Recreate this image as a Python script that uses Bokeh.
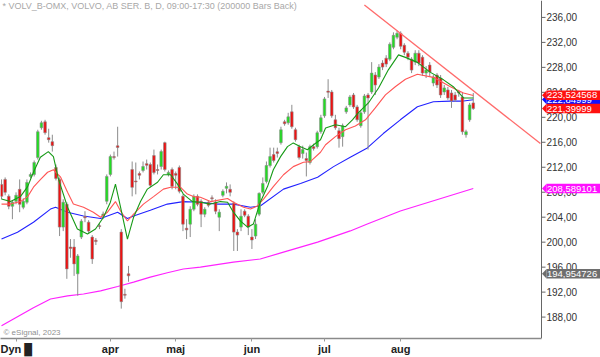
from bokeh.plotting import figure
from bokeh.models import Range1d, FixedTicker, Label, ColumnDataSource
from bokeh.core.properties import value
from bokeh.embed import file_html
from bokeh.resources import INLINE

# ---------------- data ----------------
opens = [209.25, 210.05, 207.34, 205.75, 206.55, 208.46, 205.59, 206.39, 210.53, 210.85,
         213.55, 218.33, 219.28, 216.74, 216.10, 211.96, 210.05, 202.41, 206.07, 199.22,
         199.22, 194.93, 200.82, 204.10, 203.20, 200.82, 200.30, 202.65, 204.20, 206.55,
         210.85, 213.71, 215.35, 201.61, 191.65, 194.93, 211.64, 209.80, 210.90, 211.48,
         212.50, 212.44, 213.87, 211.64, 212.12, 215.94, 210.85, 211.64, 210.90, 211.96,
         207.34, 202.15, 202.89, 205.27, 207.34, 206.55, 204.48, 206.39, 207.10, 206.39,
         204.00, 207.50, 208.62, 208.46, 206.23, 201.61, 202.41, 204.96, 204.16, 200.82,
         200.98, 204.48, 207.98, 209.73, 212.28, 214.03, 214.40, 215.94, 219.20, 219.12,
         220.88, 218.01, 215.30, 214.19, 213.39, 212.76, 215.30, 215.30, 217.69, 220.24,
         224.20, 224.06, 219.60, 217.85, 216.90, 220.88, 221.99, 223.58, 221.67, 218.65,
         220.88, 223.58, 224.06, 226.77, 226.45, 228.68, 229.47, 229.31, 231.22, 232.82,
         233.45, 231.54, 230.27, 229.31, 228.84, 230.27, 229.63, 227.08, 228.36, 225.49,
         226.77, 226.29, 224.06, 224.38, 223.90, 223.58, 224.10, 223.26, 217.21, 219.60,
         222.31]
highs = [210.05, 210.37, 207.66, 206.71, 207.98, 210.05, 207.03, 210.05, 211.17, 213.08,
         218.01, 219.44, 219.60, 218.17, 217.21, 212.44, 210.37, 206.87, 206.39, 200.50,
         200.50, 198.10, 203.68, 204.96, 203.52, 201.13, 200.66, 203.04, 204.90, 210.85,
         214.03, 214.51, 218.49, 202.09, 192.54, 196.20, 212.92, 212.76, 211.32, 212.92,
         213.23, 212.76, 214.83, 212.44, 214.83, 216.10, 211.48, 211.96, 211.32, 212.28,
         207.66, 203.68, 205.75, 207.66, 207.66, 206.87, 205.59, 206.71, 207.50, 206.87,
         205.27, 208.46, 209.57, 209.25, 206.55, 202.09, 205.27, 205.27, 204.48, 202.09,
         203.68, 207.98, 210.37, 212.92, 215.14, 215.14, 215.14, 218.49, 219.60, 220.72,
         222.00, 218.33, 215.62, 215.46, 214.35, 215.62, 215.78, 217.85, 220.40, 223.26,
         226.10, 224.38, 220.40, 218.33, 219.00, 221.83, 223.58, 223.90, 221.99, 221.19,
         223.74, 223.90, 228.84, 227.24, 228.52, 229.15, 229.95, 232.01, 233.61, 233.93,
         233.77, 231.86, 230.59, 229.63, 230.75, 230.75, 229.95, 228.20, 228.84, 226.77,
         227.08, 226.77, 225.17, 224.86, 224.38, 224.06, 224.40, 223.90, 218.01, 222.31,
         223.90]
lows = [206.87, 207.50, 205.27, 203.68, 206.07, 204.80, 205.27, 206.07, 210.21, 210.53,
        213.23, 218.01, 217.21, 215.94, 214.51, 209.89, 200.98, 201.77, 194.13, 197.50,
        194.60, 191.42, 200.50, 203.20, 201.45, 196.52, 199.54, 202.09, 203.70, 206.07,
        210.53, 213.23, 213.71, 189.36, 190.95, 193.66, 207.34, 207.66, 210.05, 211.17,
        211.64, 208.78, 210.85, 210.85, 211.64, 211.32, 210.53, 208.46, 208.46, 207.82,
        201.77, 200.50, 200.82, 204.96, 205.75, 202.41, 204.00, 205.59, 206.55, 204.48,
        201.77, 207.19, 207.82, 207.34, 198.59, 198.59, 201.77, 204.00, 201.13, 198.91,
        200.50, 204.16, 207.66, 209.41, 211.96, 212.76, 213.55, 215.62, 218.65, 218.81,
        218.17, 216.10, 213.23, 213.39, 210.53, 212.44, 214.67, 214.99, 217.37, 219.92,
        223.10, 219.92, 218.01, 215.14, 215.30, 220.56, 221.67, 221.35, 219.28, 218.33,
        220.56, 214.83, 223.74, 223.58, 226.13, 227.56, 228.04, 228.99, 230.90, 232.50,
        230.90, 229.95, 229.15, 227.08, 228.36, 228.20, 226.61, 226.29, 226.45, 224.97,
        224.70, 223.10, 223.58, 222.79, 221.51, 222.47, 223.30, 217.21, 216.74, 219.28,
        221.20]
closes = [207.34, 207.98, 205.75, 206.39, 207.50, 206.07, 206.55, 209.57, 210.85, 212.76,
          217.69, 219.12, 217.53, 216.42, 215.46, 210.21, 202.41, 206.39, 195.72, 199.00,
          196.52, 197.79, 203.36, 203.90, 201.77, 197.31, 200.10, 202.50, 204.50, 210.53,
          213.71, 213.55, 215.25, 190.47, 191.50, 194.61, 208.78, 209.65, 210.80, 212.12,
          212.40, 209.10, 211.17, 211.48, 214.51, 211.64, 211.17, 208.94, 210.80, 208.14,
          202.89, 202.05, 205.27, 207.34, 206.07, 204.48, 205.27, 205.91, 206.95, 204.96,
          204.80, 208.14, 208.94, 207.98, 201.61, 201.13, 204.16, 204.32, 202.41, 200.34,
          202.89, 207.82, 209.41, 212.28, 213.71, 213.08, 214.30, 218.01, 219.05, 220.08,
          218.49, 216.42, 213.55, 214.83, 213.08, 215.30, 214.99, 217.53, 219.92, 222.95,
          224.00, 220.24, 218.33, 216.58, 218.65, 221.51, 223.26, 221.67, 219.60, 220.72,
          223.42, 223.10, 227.08, 225.17, 228.04, 228.04, 228.52, 231.70, 233.13, 233.45,
          231.38, 230.43, 229.63, 227.56, 230.27, 228.68, 227.08, 227.56, 227.24, 226.45,
          225.17, 223.58, 224.70, 223.10, 222.63, 222.79, 223.90, 217.69, 217.69, 221.99,
          221.40]

month_pos = [30, 48, 69, 89, 110]
month_labels = ["apr", "maj", "jun", "jul", "aug"]
corner_pos = 4.0
corner_label = "Dyn \u2588"
price_ticks = [188, 192, 196, 200, 204, 208, 212, 216, 220, 224, 228, 232, 236]
price_labels = [f"{t},00" for t in price_ticks]

ma_fast_x = [0, 2.5, 5.2, 7.2, 8.8, 10.7, 12.9, 14.3, 15.7, 18.2, 20.9, 23.7, 25.9, 28.1, 30.0,
             31.4, 32.8, 34.7, 36.4, 38.3, 40.2, 43.0, 44.6, 46.6, 48.5, 50.1, 52.6, 54.8, 57.6,
             60.3, 62.3, 63.9, 65.8, 67.8, 69.4, 71.3, 73.3, 74.9, 76.9, 78.8, 80.4, 82.4, 84.3,
             86.0, 87.9, 89.3, 92.0, 94.8, 96.7, 98.3, 101.1, 103.9, 106.6, 109.4, 111.3, 114.6,
             118.2, 121.8, 124.5, 127.3, 130]
ma_fast_y = [206.9, 206.5, 207.3, 208.9, 211.2, 213.6, 214.5, 213.7, 210.1, 205.6, 202.1, 201.3,
             202.1, 204.0, 206.4, 209.3, 205.6, 200.5, 204.0, 206.5, 208.5, 209.6, 210.8, 210.8,
             209.3, 207.7, 206.5, 206.4, 206.1, 206.5, 206.4, 204.8, 203.4, 202.4, 202.9, 206.4,
             208.9, 211.6, 213.7, 215.3, 215.9, 215.3, 214.8, 215.6, 216.4, 218.3, 218.8, 218.5,
             219.6, 220.7, 222.3, 224.7, 227.6, 230.0, 229.6, 228.8, 227.2, 226.0, 224.9, 223.1,
             223.1]
ma_mid_x = [0, 2.5, 5.2, 7.2, 8.8, 10.7, 12.7, 14.3, 16.3, 18.2, 19.8, 22.6, 25.3, 27.3, 29.2,
            31.4, 32.8, 34.7, 36.4, 39.1, 41.9, 44.6, 46.6, 49.3, 51.2, 52.9, 54.8, 57.6, 62.3,
            63.9, 66.7, 68.6, 70.5, 72.2, 74.9, 77.7, 80.4, 83.2, 85.1, 87.9, 89.3, 92.0, 94.8,
            97.5, 100.3, 103.0, 105.8, 108.5, 111.3, 114.6, 119.0, 123.7, 127.3, 130]
ma_mid_y = [206.1, 206.1, 206.5, 207.3, 208.8, 210.0, 211.2, 211.6, 210.4, 208.0, 206.1, 205.6,
            204.8, 204.0, 204.8, 206.5, 205.0, 203.4, 204.5, 206.1, 207.3, 208.5, 208.8, 208.8,
            207.7, 207.3, 207.2, 206.5, 207.0, 206.4, 205.6, 205.3, 205.8, 206.9, 208.9, 210.8,
            212.1, 212.8, 212.9, 214.4, 215.6, 216.9, 218.0, 218.6, 219.6, 221.5, 223.6, 224.9,
            226.1, 226.9, 226.4, 224.9, 223.9, 223.5]
ma_slow_x = [0, 4.4, 8.8, 13.5, 14.9, 18.2, 22.6, 27.3, 32.0, 34.7, 36.4, 41.0, 45.7, 50.1, 54.8,
             59.5, 63.9, 68.6, 71.3, 77.7, 82.4, 87.1, 91.5, 96.1, 100.8, 105.2, 109.9, 114.6,
             119.0, 123.7, 127.3, 130]
ma_slow_y = [200.5, 201.6, 203.2, 205.3, 205.6, 204.8, 204.2, 203.8, 204.8, 203.8, 204.2, 205.1,
             206.1, 206.5, 206.4, 206.1, 206.1, 205.6, 205.8, 208.5, 209.4, 210.4, 212.1, 213.6,
             215.1, 217.4, 219.6, 221.7, 222.5, 222.6, 222.6, 222.8]
ma_long_x = [0, 8.8, 13.5, 18.2, 22.6, 27.3, 32.0, 36.4, 41.0, 45.7, 50.1, 54.8, 63.9, 71.3,
             77.7, 87.1, 96.1, 100.8, 109.9, 130]
ma_long_y = [186.6, 189.5, 190.9, 191.4, 191.7, 192.2, 192.9, 193.6, 194.4, 195.1, 195.7, 196.0,
             196.8, 197.3, 198.4, 200.0, 201.8, 202.9, 205.0, 208.6]

trend_x = [100, 148.5]
trend_y = [238.0, 215.8]

# drawn in this order (later tags cover earlier ones)
tag_values = [222.84999, 223.524568, 221.39999, 208.589101, 194.954726]
tag_texts = ["222,84999", "223,524568", "221,39999", "208,589101", "194,954726"]
tag_colors = ["#1010ff", "#ff1010", "#ff1010", "#ff10ff", "#6e6e6e"]

# ---------------- geometry of the canvas ----------------
W, H = 600, 357
CHART_PX = 541           # width of the price area; the scale sits to its right
BOTTOM_PX = 17
X0, X1 = -0.28, 148.8    # bar-index span of the price area
Y0, Y1 = 184.57, 238.71
kx = CHART_PX / (X1 - X0)
ky = (H - BOTTOM_PX) / (Y1 - Y0)
X_END = X0 + W / kx

p = figure(width=W, height=H, output_backend="svg", toolbar_location=None,
           x_range=Range1d(X0, X_END), y_range=Range1d(Y0, Y1),
           min_border_left=0, min_border_top=0, min_border_right=0,
           min_border_bottom=BOTTOM_PX)
p.yaxis.visible = False
p.outline_line_color = None
p.xgrid.visible = False
p.ygrid.visible = False
p.background_fill_color = "white"
p.border_fill_color = "white"

idx = list(range(len(opens)))
up = [c >= o for o, c in zip(opens, closes)]
src = ColumnDataSource(dict(
    x=idx, high=highs, low=lows,
    top=[max(o, c) + (0.08 if abs(o - c) < 0.15 else 0) for o, c in zip(opens, closes)],
    bottom=[min(o, c) - (0.08 if abs(o - c) < 0.15 else 0) for o, c in zip(opens, closes)],
    color=["#22dd22" if u else "#ee1111" for u in up]))

p.line(ma_long_x, ma_long_y, color="#ff22ff", line_width=1.2)
p.line(ma_slow_x, ma_slow_y, color="#2222ff", line_width=1.1)
p.segment(x0="x", y0="high", x1="x", y1="low", source=src, color="#8c8c8c", line_width=1)
p.vbar(x="x", width=0.72, top="top", bottom="bottom", source=src,
       fill_color="color", line_color="#8a8a8a", line_width=0.6)
p.line(ma_mid_x, ma_mid_y, color="#ff5555", line_width=1.1)
p.line(ma_fast_x, ma_fast_y, color="#169a16", line_width=1.1)
p.line(trend_x, trend_y, color="#ff6a6a", line_width=1.3)

# bottom (date) axis
xax = p.xaxis[0]
xax.bounds = (X0, X1)
xax.ticker = FixedTicker(ticks=[corner_pos] + month_pos)
xax.major_label_overrides = {corner_pos: corner_label,
                             **{m: l for m, l in zip(month_pos, month_labels)}}
xax.major_label_text_font = "Liberation Sans"
xax.major_label_text_font_size = "11px"
xax.major_label_text_font_style = "bold"
xax.major_label_text_color = "#222222"
xax.axis_line_color = "#8a8a8a"
xax.axis_line_width = 1.5
xax.major_tick_line_color = "#9a9a9a"
xax.major_tick_out = 3
xax.major_tick_in = 0
xax.minor_tick_line_color = None
xax.major_label_standoff = 1

# price scale on the right of the price area
n = len(price_ticks)
p.segment(x0=[X1] * 1, y0=[Y0], x1=[X1], y1=[Y1], color="#666666", line_width=1)
p.segment(x0=[X1] * n, y0=price_ticks, x1=[X1 + 4 / kx] * n, y1=price_ticks,
          color="#666666", line_width=1)
p.text(x=[X1 + 5 / kx] * n, y=price_ticks, text=price_labels,
       text_font=value("Liberation Sans"), text_font_size=value("10px"),
       text_color="#333333", text_baseline="middle", text_align="left")

# last-value tags on the price scale
half = 4.8 / ky
for v, t, c in zip(tag_values, tag_texts, tag_colors):
    p.patch([X1 + 0.5 / kx, X1 + 5 / kx, X1 + 5 / kx], [v, v + half, v - half],
            fill_color=c, line_color=None)
    p.quad(left=[X1 + 5 / kx], right=[X1 + 58.5 / kx], top=[v + half], bottom=[v - half],
           fill_color=c, line_color=None)
    p.text(x=[X1 + 5.5 / kx], y=[v], text=[t], text_font=value("Liberation Sans"),
           text_font_size=value("9.5px"), text_color="white", text_baseline="middle",
           text_align="left")

# texts
p.add_layout(Label(x=2, y=H - BOTTOM_PX - 7, x_units="screen", y_units="screen",
                   text="* VOLV_B-OMX, VOLVO, AB SER. B, D, 09:00-17:30 (200000 Bars Back)",
                   text_font="Liberation Sans", text_font_size="9px", text_color="#a8a8a8",
                   text_baseline="middle"))
p.add_layout(Label(x=3, y=6, x_units="screen", y_units="screen", text="© eSignal, 2023",
                   text_font="Liberation Sans", text_font_size="8px", text_color="#909090",
                   text_baseline="middle"))

open("out.html", "w").write(file_html(p, INLINE))
